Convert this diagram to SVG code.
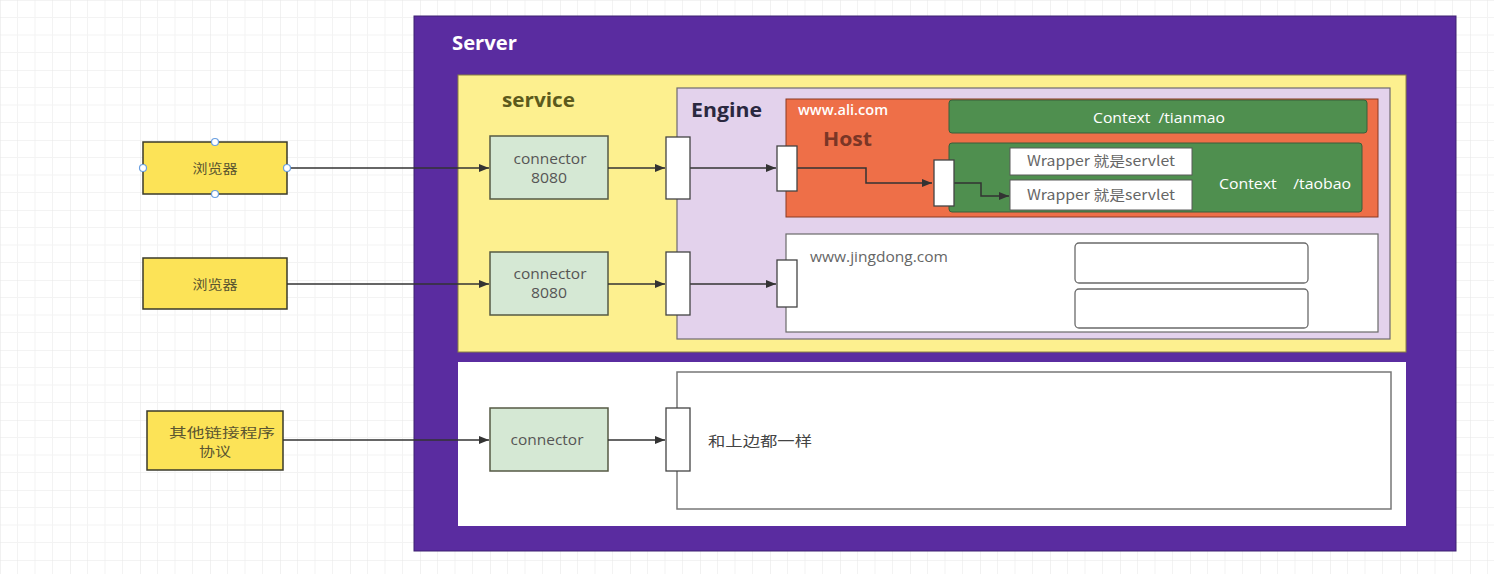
<svg xmlns="http://www.w3.org/2000/svg" width="1494" height="574" viewBox="0 0 1494 574">
<defs>
<pattern id="grid" width="70" height="70" patternUnits="userSpaceOnUse" x="0" y="0">
<path d="M17.5 0V70M35 0V70M52.5 0V70M0 17.5H70M0 35H70M0 52.5H70" stroke="#f3f3f3" stroke-width="1" fill="none"/>
<path d="M0 0V70M0 0H70" stroke="#e8e8e8" stroke-width="1.2" fill="none"/>
</pattern>
<marker id="arr" viewBox="0 0 10 10" refX="10" refY="5" markerWidth="10" markerHeight="10" markerUnits="userSpaceOnUse" orient="auto">
<path d="M0 1L10 5L0 9Z" fill="#333"/>
</marker>
<style>
.cn{font-family:"Noto Sans CJK SC","Open Sans",sans-serif;}
.t{font-family:"Open Sans","Noto Sans CJK SC",sans-serif;}
.title{font-weight:bold;font-size:20px;}
.browser{fill:#fce357;stroke:#3a3a2a;stroke-width:1.5;}
.conn{fill:#d5e8d4;stroke:#555a44;stroke-width:1.5;}
.port{fill:#ffffff;stroke:#444;stroke-width:1.3;}
.lbl{font-size:14px;fill:#555;text-anchor:middle;}
.edge{stroke:#333;stroke-width:1.5;fill:none;marker-end:url(#arr);}
.green{fill:#4f8f4f;stroke:#3a5e3a;stroke-width:1;}
.wrap{fill:#ffffff;stroke:#5a5a5a;stroke-width:1;}
.wl{font-size:14px;fill:#666;text-anchor:middle;}
.bl{font-size:13px;fill:#5a5530;text-anchor:middle;}
.handle{fill:#ffffff;stroke:#6a9fe0;stroke-width:1.2;}
</style>
</defs>
<rect width="1494" height="574" fill="#ffffff"/>
<rect width="1494" height="574" fill="url(#grid)"/>

<g id="server">
<rect x="414" y="16" width="1042" height="535" fill="#5a2ca0" stroke="#3d2170" stroke-width="1"/>
<text class="t title" x="452" y="50" fill="#ffffff" textLength="65" lengthAdjust="spacingAndGlyphs">Server</text>
</g>

<g id="service">
<rect x="458" y="75" width="948" height="277" fill="#fdf08f" stroke="#8a8040" stroke-width="1"/>
<text class="t title" x="502" y="107" fill="#5c5a1c" textLength="73" lengthAdjust="spacingAndGlyphs">service</text>
</g>

<g id="service2">
<rect x="458" y="362" width="948" height="164" fill="#ffffff"/>
</g>

<g id="engine">
<rect x="677" y="88" width="713" height="251" fill="#e3d2ec" stroke="#6e6a70" stroke-width="1.2"/>
<text class="t title" x="691" y="117" fill="#2a2840" textLength="71" lengthAdjust="spacingAndGlyphs">Engine</text>
</g>

<g id="host-ali">
<rect x="786" y="99" width="592" height="118" fill="#ee6f48" stroke="#8a3a22" stroke-width="1"/>
<text class="t" x="798" y="115" font-size="13.5" font-weight="600" fill="#ffffff" textLength="90" lengthAdjust="spacingAndGlyphs">www.ali.com</text>
<text class="t title" x="823" y="146" fill="#7a3626" textLength="49" lengthAdjust="spacingAndGlyphs">Host</text>
</g>

<g id="context-tianmao">
<rect class="green" x="949" y="100" width="418" height="33" rx="3"/>
<text class="t" x="1093" y="123" font-size="14" fill="#ffffff" xml:space="preserve" style="white-space:pre" textLength="132" lengthAdjust="spacingAndGlyphs">Context  /tianmao</text>
</g>

<g id="context-taobao">
<rect class="green" x="949" y="143" width="413" height="69" rx="3"/>
<text class="t" x="1219" y="189" font-size="14" fill="#ffffff" xml:space="preserve" style="white-space:pre" textLength="132" lengthAdjust="spacingAndGlyphs">Context    /taobao</text>
</g>

<g id="wrapper1">
<rect class="wrap" x="1010" y="148" width="182" height="27"/>
<text class="cn wl" x="1101" y="166" textLength="148" lengthAdjust="spacingAndGlyphs">Wrapper 就是servlet</text>
</g>
<g id="wrapper2">
<rect class="wrap" x="1010" y="180" width="182" height="30"/>
<text class="cn wl" x="1101" y="200" textLength="148" lengthAdjust="spacingAndGlyphs">Wrapper 就是servlet</text>
</g>

<g id="host-jingdong">
<rect x="786" y="234" width="592" height="98" fill="#ffffff" stroke="#6a6a6a" stroke-width="1.2"/>
<text class="t" x="810" y="262" font-size="14" fill="#666" textLength="138" lengthAdjust="spacingAndGlyphs">www.jingdong.com</text>
</g>
<g id="jd-box1"><rect x="1075" y="243" width="233" height="40" rx="4" fill="#ffffff" stroke="#6a6a6a" stroke-width="1.3"/></g>
<g id="jd-box2"><rect x="1075" y="289" width="233" height="39" rx="4" fill="#ffffff" stroke="#6a6a6a" stroke-width="1.3"/></g>

<g id="other-engine">
<rect x="677" y="372" width="714" height="137" fill="#ffffff" stroke="#777" stroke-width="1.5"/>
<text class="cn" x="708" y="446" font-size="14" fill="#444" textLength="104" lengthAdjust="spacingAndGlyphs">和上边都一样</text>
</g>

<g id="browser1">
<rect class="browser" x="143" y="142" width="144" height="52"/>
<text class="cn bl" x="215" y="173" textLength="45" lengthAdjust="spacingAndGlyphs">浏览器</text>
</g>
<g id="browser2">
<rect class="browser" x="143" y="258" width="144" height="51"/>
<text class="cn bl" x="215" y="289" textLength="45" lengthAdjust="spacingAndGlyphs">浏览器</text>
</g>
<g id="other-client">
<rect class="browser" x="147" y="411" width="136" height="59"/>
<text class="cn bl" x="222" y="437" textLength="106" lengthAdjust="spacingAndGlyphs">其他链接程序</text>
<text class="cn bl" x="215" y="456" textLength="32" lengthAdjust="spacingAndGlyphs">协议</text>
</g>

<g id="connector1">
<rect class="conn" x="490" y="136" width="118" height="63"/>
<text class="t lbl" x="550" y="164" textLength="73" lengthAdjust="spacingAndGlyphs">connector</text>
<text class="t lbl" x="549" y="183" textLength="36" lengthAdjust="spacingAndGlyphs">8080</text>
</g>
<g id="connector2">
<rect class="conn" x="490" y="252" width="118" height="63"/>
<text class="t lbl" x="550" y="279" textLength="73" lengthAdjust="spacingAndGlyphs">connector</text>
<text class="t lbl" x="549" y="298" textLength="36" lengthAdjust="spacingAndGlyphs">8080</text>
</g>
<g id="connector3">
<rect class="conn" x="490" y="408" width="118" height="63"/>
<text class="t lbl" x="547" y="445" textLength="73" lengthAdjust="spacingAndGlyphs">connector</text>
</g>

<g id="connectors">
<line class="edge" x1="287" y1="168" x2="489" y2="168"/>
<line class="edge" x1="287" y1="284" x2="489" y2="284"/>
<line class="edge" x1="283" y1="440" x2="489" y2="440"/>
<line class="edge" x1="608" y1="168" x2="665" y2="168"/>
<line class="edge" x1="608" y1="284" x2="665" y2="284"/>
<line class="edge" x1="608" y1="440" x2="665" y2="440"/>
<line class="edge" x1="690" y1="168" x2="776" y2="168"/>
<line class="edge" x1="690" y1="284" x2="776" y2="284"/>
<polyline class="edge" points="797,168 866,168 866,183 932,183"/>
<polyline class="edge" points="954,183 981,183 981,196 1009,196"/>
</g>

<g id="ports">
<rect class="port" x="666" y="137" width="24" height="62"/>
<rect class="port" x="666" y="252" width="24" height="63"/>
<rect class="port" x="666" y="408" width="24" height="63"/>
<rect class="port" x="777" y="146" width="20" height="45"/>
<rect class="port" x="777" y="260" width="20" height="47"/>
<rect class="port" x="934" y="160" width="20" height="46"/>
</g>

<g id="selection-handles">
<circle class="handle" cx="215" cy="142" r="3.5"/>
<circle class="handle" cx="215" cy="194" r="3.5"/>
<circle class="handle" cx="143" cy="168" r="3.5"/>
<circle class="handle" cx="287" cy="168" r="3.5"/>
</g>
</svg>
